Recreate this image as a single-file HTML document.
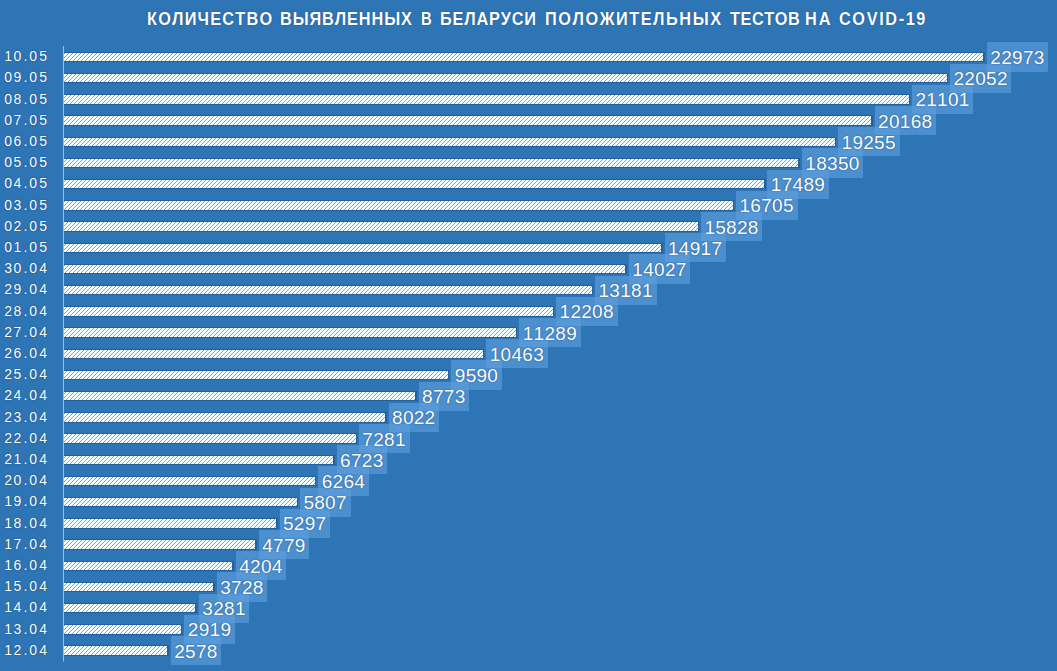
<!DOCTYPE html>
<html><head><meta charset="utf-8"><style>
html,body{margin:0;padding:0;width:1057px;height:671px;overflow:hidden;background:#2E75B6;}
body{position:relative;font-family:"Liberation Sans",sans-serif;font-kerning:none;}
.title{position:absolute;left:0;top:19.02px;font-weight:bold;font-size:18.1px;color:#fff;white-space:nowrap;line-height:0;text-shadow:0 0 1.2px rgba(15,50,100,0.9);}
.title span,.cat span{position:absolute;top:0;}
.title span{transform-origin:0 0;}
.cat{position:absolute;left:0;font-size:14.0px;color:#fff;line-height:0;white-space:nowrap;text-shadow:0 0 1.2px rgba(15,50,100,0.9);}
.vb{position:absolute;height:29.3px;background:rgba(95,160,222,0.6);padding:0 3.7px 0 3.4px;}
.vt{position:relative;line-height:0;font-size:19.0px;letter-spacing:0.3px;color:#fff;white-space:nowrap;text-shadow:0 0 1.2px rgba(15,50,100,0.9);}
</style></head><body>
<svg width="1057" height="671" style="position:absolute;left:0;top:0">
<defs><pattern id="hatch" patternUnits="userSpaceOnUse" width="4" height="4" x="2" y="0">
<path d="M0 0h4v4h-4z" fill="#f4fdff" shape-rendering="crispEdges"/>
<path d="M3 0h1v1h-1zM2 1h1v1h-1zM1 2h1v1h-1zM0 3h1v1h-1z" fill="#86a0c6" shape-rendering="crispEdges"/>
</pattern></defs>
<g fill="#235f9e" shape-rendering="crispEdges"><rect x="64" y="51.80" width="920.97" height="10.40"/><rect x="64" y="73.00" width="884.12" height="10.40"/><rect x="64" y="94.20" width="846.06" height="10.40"/><rect x="64" y="115.40" width="808.73" height="10.40"/><rect x="64" y="136.60" width="772.19" height="10.40"/><rect x="64" y="157.80" width="735.98" height="10.40"/><rect x="64" y="179.00" width="701.52" height="10.40"/><rect x="64" y="200.20" width="670.15" height="10.40"/><rect x="64" y="221.40" width="635.05" height="10.40"/><rect x="64" y="242.60" width="598.60" height="10.40"/><rect x="64" y="263.80" width="562.98" height="10.40"/><rect x="64" y="285.00" width="529.13" height="10.40"/><rect x="64" y="306.20" width="490.19" height="10.40"/><rect x="64" y="327.40" width="453.42" height="10.40"/><rect x="64" y="348.60" width="420.36" height="10.40"/><rect x="64" y="369.80" width="385.43" height="10.40"/><rect x="64" y="391.00" width="352.73" height="10.40"/><rect x="64" y="412.20" width="322.68" height="10.40"/><rect x="64" y="433.40" width="293.03" height="10.40"/><rect x="64" y="454.60" width="270.70" height="10.40"/><rect x="64" y="475.80" width="252.33" height="10.40"/><rect x="64" y="497.00" width="234.04" height="10.40"/><rect x="64" y="518.20" width="213.63" height="10.40"/><rect x="64" y="539.40" width="192.91" height="10.40"/><rect x="64" y="560.60" width="169.90" height="10.40"/><rect x="64" y="581.80" width="150.85" height="10.40"/><rect x="64" y="603.00" width="132.96" height="10.40"/><rect x="64" y="624.20" width="118.47" height="10.40"/><rect x="64" y="645.40" width="104.83" height="10.40"/></g>
<g fill="url(#hatch)" shape-rendering="crispEdges"><rect x="64" y="52.80" width="919.47" height="8.40"/><rect x="64" y="74.00" width="882.62" height="8.40"/><rect x="64" y="95.20" width="844.56" height="8.40"/><rect x="64" y="116.40" width="807.23" height="8.40"/><rect x="64" y="137.60" width="770.69" height="8.40"/><rect x="64" y="158.80" width="734.48" height="8.40"/><rect x="64" y="180.00" width="700.02" height="8.40"/><rect x="64" y="201.20" width="668.65" height="8.40"/><rect x="64" y="222.40" width="633.55" height="8.40"/><rect x="64" y="243.60" width="597.10" height="8.40"/><rect x="64" y="264.80" width="561.48" height="8.40"/><rect x="64" y="286.00" width="527.63" height="8.40"/><rect x="64" y="307.20" width="488.69" height="8.40"/><rect x="64" y="328.40" width="451.92" height="8.40"/><rect x="64" y="349.60" width="418.86" height="8.40"/><rect x="64" y="370.80" width="383.93" height="8.40"/><rect x="64" y="392.00" width="351.23" height="8.40"/><rect x="64" y="413.20" width="321.18" height="8.40"/><rect x="64" y="434.40" width="291.53" height="8.40"/><rect x="64" y="455.60" width="269.20" height="8.40"/><rect x="64" y="476.80" width="250.83" height="8.40"/><rect x="64" y="498.00" width="232.54" height="8.40"/><rect x="64" y="519.20" width="212.13" height="8.40"/><rect x="64" y="540.40" width="191.41" height="8.40"/><rect x="64" y="561.60" width="168.40" height="8.40"/><rect x="64" y="582.80" width="149.35" height="8.40"/><rect x="64" y="604.00" width="131.46" height="8.40"/><rect x="64" y="625.20" width="116.97" height="8.40"/><rect x="64" y="646.40" width="103.33" height="8.40"/></g>
<rect x="63" y="46" width="1" height="615.50" fill="#92C2F0"/>
</svg>
<div class="title"><span style="left:147.38px;transform:scaleX(0.9000);letter-spacing:1.352px">КОЛИЧЕСТВО</span><span style="left:279.77px;transform:scaleX(0.9000);letter-spacing:0.994px">ВЫЯВЛЕННЫХ</span><span style="left:421.18px;transform:scaleX(0.8182);letter-spacing:0.000px">В</span><span style="left:439.88px;transform:scaleX(0.9000);letter-spacing:0.929px">БЕЛАРУСИ</span><span style="left:544.58px;transform:scaleX(0.9000);letter-spacing:1.725px">ПОЛОЖИТЕЛЬНЫХ</span><span style="left:729.67px;transform:scaleX(0.9000);letter-spacing:0.633px">ТЕСТОВ</span><span style="left:805.48px;transform:scaleX(0.9000);letter-spacing:2.167px">НА</span><span style="left:838.53px;transform:scaleX(0.9000);letter-spacing:1.794px">COVID-19</span></div>
<div class="cat" style="top:56.15px"><span style="left:4.16px">1</span><span style="left:13.41px">0</span><span style="left:23.50px">.</span><span style="left:29.16px">0</span><span style="left:39.36px">5</span></div><div class="cat" style="top:77.35px"><span style="left:4.16px">0</span><span style="left:13.41px">9</span><span style="left:23.50px">.</span><span style="left:29.16px">0</span><span style="left:39.36px">5</span></div><div class="cat" style="top:98.55px"><span style="left:4.16px">0</span><span style="left:13.41px">8</span><span style="left:23.50px">.</span><span style="left:29.16px">0</span><span style="left:39.36px">5</span></div><div class="cat" style="top:119.75px"><span style="left:4.16px">0</span><span style="left:13.41px">7</span><span style="left:23.50px">.</span><span style="left:29.16px">0</span><span style="left:39.36px">5</span></div><div class="cat" style="top:140.95px"><span style="left:4.16px">0</span><span style="left:13.41px">6</span><span style="left:23.50px">.</span><span style="left:29.16px">0</span><span style="left:39.36px">5</span></div><div class="cat" style="top:162.15px"><span style="left:4.16px">0</span><span style="left:13.41px">5</span><span style="left:23.50px">.</span><span style="left:29.16px">0</span><span style="left:39.36px">5</span></div><div class="cat" style="top:183.35px"><span style="left:4.16px">0</span><span style="left:13.41px">4</span><span style="left:23.50px">.</span><span style="left:29.16px">0</span><span style="left:39.36px">5</span></div><div class="cat" style="top:204.55px"><span style="left:4.16px">0</span><span style="left:13.41px">3</span><span style="left:23.50px">.</span><span style="left:29.16px">0</span><span style="left:39.36px">5</span></div><div class="cat" style="top:225.75px"><span style="left:4.16px">0</span><span style="left:13.41px">2</span><span style="left:23.50px">.</span><span style="left:29.16px">0</span><span style="left:39.36px">5</span></div><div class="cat" style="top:246.95px"><span style="left:4.16px">0</span><span style="left:13.41px">1</span><span style="left:23.50px">.</span><span style="left:29.16px">0</span><span style="left:39.36px">5</span></div><div class="cat" style="top:268.15px"><span style="left:4.16px">3</span><span style="left:13.41px">0</span><span style="left:23.50px">.</span><span style="left:29.16px">0</span><span style="left:39.36px">4</span></div><div class="cat" style="top:289.35px"><span style="left:4.16px">2</span><span style="left:13.41px">9</span><span style="left:23.50px">.</span><span style="left:29.16px">0</span><span style="left:39.36px">4</span></div><div class="cat" style="top:310.55px"><span style="left:4.16px">2</span><span style="left:13.41px">8</span><span style="left:23.50px">.</span><span style="left:29.16px">0</span><span style="left:39.36px">4</span></div><div class="cat" style="top:331.75px"><span style="left:4.16px">2</span><span style="left:13.41px">7</span><span style="left:23.50px">.</span><span style="left:29.16px">0</span><span style="left:39.36px">4</span></div><div class="cat" style="top:352.95px"><span style="left:4.16px">2</span><span style="left:13.41px">6</span><span style="left:23.50px">.</span><span style="left:29.16px">0</span><span style="left:39.36px">4</span></div><div class="cat" style="top:374.15px"><span style="left:4.16px">2</span><span style="left:13.41px">5</span><span style="left:23.50px">.</span><span style="left:29.16px">0</span><span style="left:39.36px">4</span></div><div class="cat" style="top:395.35px"><span style="left:4.16px">2</span><span style="left:13.41px">4</span><span style="left:23.50px">.</span><span style="left:29.16px">0</span><span style="left:39.36px">4</span></div><div class="cat" style="top:416.55px"><span style="left:4.16px">2</span><span style="left:13.41px">3</span><span style="left:23.50px">.</span><span style="left:29.16px">0</span><span style="left:39.36px">4</span></div><div class="cat" style="top:437.75px"><span style="left:4.16px">2</span><span style="left:13.41px">2</span><span style="left:23.50px">.</span><span style="left:29.16px">0</span><span style="left:39.36px">4</span></div><div class="cat" style="top:458.95px"><span style="left:4.16px">2</span><span style="left:13.41px">1</span><span style="left:23.50px">.</span><span style="left:29.16px">0</span><span style="left:39.36px">4</span></div><div class="cat" style="top:480.15px"><span style="left:4.16px">2</span><span style="left:13.41px">0</span><span style="left:23.50px">.</span><span style="left:29.16px">0</span><span style="left:39.36px">4</span></div><div class="cat" style="top:501.35px"><span style="left:4.16px">1</span><span style="left:13.41px">9</span><span style="left:23.50px">.</span><span style="left:29.16px">0</span><span style="left:39.36px">4</span></div><div class="cat" style="top:522.55px"><span style="left:4.16px">1</span><span style="left:13.41px">8</span><span style="left:23.50px">.</span><span style="left:29.16px">0</span><span style="left:39.36px">4</span></div><div class="cat" style="top:543.75px"><span style="left:4.16px">1</span><span style="left:13.41px">7</span><span style="left:23.50px">.</span><span style="left:29.16px">0</span><span style="left:39.36px">4</span></div><div class="cat" style="top:564.95px"><span style="left:4.16px">1</span><span style="left:13.41px">6</span><span style="left:23.50px">.</span><span style="left:29.16px">0</span><span style="left:39.36px">4</span></div><div class="cat" style="top:586.15px"><span style="left:4.16px">1</span><span style="left:13.41px">5</span><span style="left:23.50px">.</span><span style="left:29.16px">0</span><span style="left:39.36px">4</span></div><div class="cat" style="top:607.35px"><span style="left:4.16px">1</span><span style="left:13.41px">4</span><span style="left:23.50px">.</span><span style="left:29.16px">0</span><span style="left:39.36px">4</span></div><div class="cat" style="top:628.55px"><span style="left:4.16px">1</span><span style="left:13.41px">3</span><span style="left:23.50px">.</span><span style="left:29.16px">0</span><span style="left:39.36px">4</span></div><div class="cat" style="top:649.75px"><span style="left:4.16px">1</span><span style="left:13.41px">2</span><span style="left:23.50px">.</span><span style="left:29.16px">0</span><span style="left:39.36px">4</span></div>
<div class="vb" style="left:170.78px;top:635.95px"><div class="vt" style="top:15.61px">2578</div></div><div class="vb" style="left:184.42px;top:614.75px"><div class="vt" style="top:15.61px">2919</div></div><div class="vb" style="left:198.91px;top:593.55px"><div class="vt" style="top:15.61px">3281</div></div><div class="vb" style="left:216.80px;top:572.35px"><div class="vt" style="top:15.61px">3728</div></div><div class="vb" style="left:235.85px;top:551.15px"><div class="vt" style="top:15.61px">4204</div></div><div class="vb" style="left:258.86px;top:529.95px"><div class="vt" style="top:15.61px">4779</div></div><div class="vb" style="left:279.58px;top:508.75px"><div class="vt" style="top:15.61px">5297</div></div><div class="vb" style="left:299.99px;top:487.55px"><div class="vt" style="top:15.61px">5807</div></div><div class="vb" style="left:318.28px;top:466.35px"><div class="vt" style="top:15.61px">6264</div></div><div class="vb" style="left:336.65px;top:445.15px"><div class="vt" style="top:15.61px">6723</div></div><div class="vb" style="left:358.98px;top:423.95px"><div class="vt" style="top:15.61px">7281</div></div><div class="vb" style="left:388.63px;top:402.75px"><div class="vt" style="top:15.61px">8022</div></div><div class="vb" style="left:418.68px;top:381.55px"><div class="vt" style="top:15.61px">8773</div></div><div class="vb" style="left:451.38px;top:360.35px"><div class="vt" style="top:15.61px">9590</div></div><div class="vb" style="left:486.31px;top:339.15px"><div class="vt" style="top:15.61px">10463</div></div><div class="vb" style="left:519.37px;top:317.95px"><div class="vt" style="top:15.61px">11289</div></div><div class="vb" style="left:556.14px;top:296.75px"><div class="vt" style="top:15.61px">12208</div></div><div class="vb" style="left:595.08px;top:275.55px"><div class="vt" style="top:15.61px">13181</div></div><div class="vb" style="left:628.93px;top:254.35px"><div class="vt" style="top:15.61px">14027</div></div><div class="vb" style="left:664.55px;top:233.15px"><div class="vt" style="top:15.61px">14917</div></div><div class="vb" style="left:701.00px;top:211.95px"><div class="vt" style="top:15.61px">15828</div></div><div class="vb" style="left:736.10px;top:190.75px"><div class="vt" style="top:15.61px">16705</div></div><div class="vb" style="left:767.47px;top:169.55px"><div class="vt" style="top:15.61px">17489</div></div><div class="vb" style="left:801.93px;top:148.35px"><div class="vt" style="top:15.61px">18350</div></div><div class="vb" style="left:838.14px;top:127.15px"><div class="vt" style="top:15.61px">19255</div></div><div class="vb" style="left:874.68px;top:105.95px"><div class="vt" style="top:15.61px">20168</div></div><div class="vb" style="left:912.01px;top:84.75px"><div class="vt" style="top:15.61px">21101</div></div><div class="vb" style="left:950.07px;top:63.55px"><div class="vt" style="top:15.61px">22052</div></div><div class="vb" style="left:986.92px;top:42.35px"><div class="vt" style="top:15.61px">22973</div></div>
</body></html>
